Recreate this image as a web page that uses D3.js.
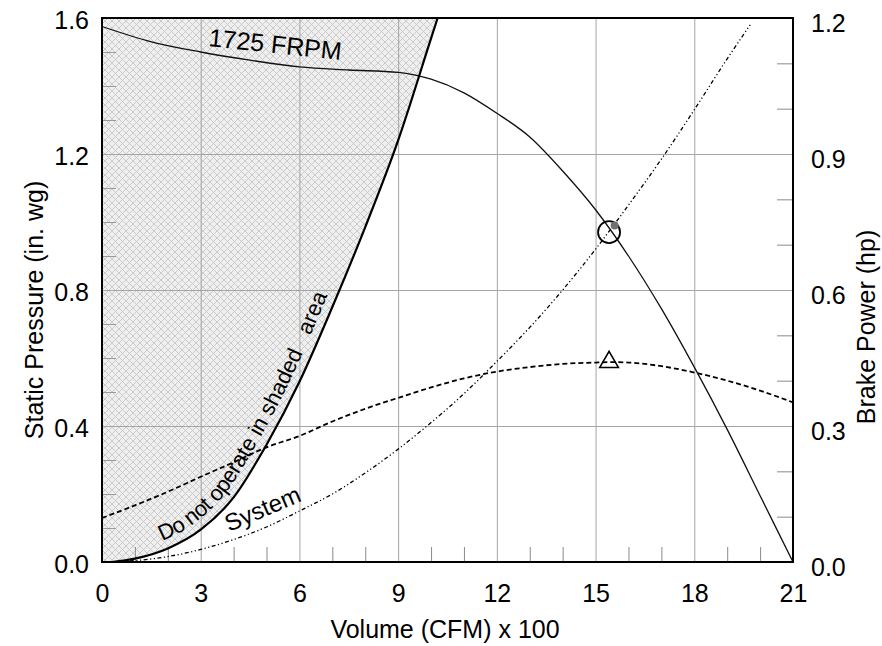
<!DOCTYPE html>
<html>
<head>
<meta charset="utf-8">
<script src="https://cdn.jsdelivr.net/npm/d3@7"></script>
<style>
  body { margin: 0; background: #fff; }
  svg text { font-family: "Liberation Sans", Arial, sans-serif; fill: #000; }
</style>
</head>
<body>
<div id="chart"></div>
<script>
// fan curve at 1725 rpm (static pressure, in. wg)
var fanX  = [0, 1.5, 3, 4.5, 6, 7.5, 9, 10, 11, 12, 13, 14, 15, 16, 17, 18, 19, 20, 21];
var fanSP = [1.575, 1.53, 1.50, 1.476, 1.456, 1.447, 1.44, 1.42, 1.38, 1.32, 1.25, 1.15, 1.036, 0.90, 0.745, 0.573, 0.39, 0.195, 0.0];

// stall boundary ("do not operate" edge)
var edgeX  = [0.3, 1, 2, 3, 4, 5, 6, 7, 8, 9, 10, 10.2];
var edgeSP = [0, 0.01, 0.04, 0.095, 0.19, 0.345, 0.53, 0.75, 0.985, 1.24, 1.54, 1.6];

// brake power (hp, right axis)
var bhpX = [0, 1, 2, 3, 4, 5, 6, 7, 8, 9, 10, 11, 12, 13, 14, 15, 15.5, 16, 17, 18, 19, 20, 21];
var bhp  = [0.097, 0.125, 0.155, 0.188, 0.22, 0.253, 0.278, 0.31, 0.338, 0.362, 0.385, 0.405, 0.42, 0.43, 0.437, 0.44, 0.441, 0.44, 0.432, 0.418, 0.40, 0.378, 0.352];

// system curve (static pressure)
var sysX  = [0, 1, 2, 3, 4, 5, 6, 7, 8, 9, 10, 11, 12, 13, 14, 15, 16, 17, 18, 19, 19.7];
var sysSP = [0, 0.004, 0.016, 0.037, 0.066, 0.103, 0.15, 0.20, 0.262, 0.332, 0.41, 0.495, 0.59, 0.69, 0.80, 0.92, 1.05, 1.185, 1.33, 1.48, 1.58];

// operating point and peak power marker
var opPoint  = [15.41, 0.97];
var opDot    = [15.58, 0.99];
var bhpPeak  = [15.41, 0.441];

var xTicks = [0, 3, 6, 9, 12, 15, 18, 21];
var yTicks = [0, 0.4, 0.8, 1.2, 1.6];
var y2Ticks = [0, 0.3, 0.6, 0.9, 1.2];
var xMinor = [1, 2, 4, 5, 7, 8, 10, 11, 13, 14, 16, 17, 19, 20];
var yMinor = [0.1, 0.2, 0.3, 0.5, 0.6, 0.7, 0.9, 1.0, 1.1, 1.3, 1.4, 1.5];
var y2Minor = [0.1, 0.2, 0.4, 0.5, 0.7, 0.8, 1.0, 1.1];

var W = 882, H = 646;
var pL = 102, pR = 793, pT = 18, pB = 562;

var svg = d3.select("#chart").append("svg")
    .attr("width", W)
    .attr("height", H);

var x = d3.scaleLinear().domain([0, 21]).range([pL, pR]);
var y = d3.scaleLinear().domain([0, 1.6]).range([pB, pT]);
var y2 = d3.scaleLinear().domain([0, 1.2]).range([pB, pT]);

// hatch for the shaded area
var defs = svg.append("defs");
var pat = defs.append("pattern")
    .attr("id", "hatch")
    .attr("patternUnits", "userSpaceOnUse")
    .attr("width", 7).attr("height", 7);
pat.append("rect").attr("width", 7).attr("height", 7).attr("fill", "#efefef");
pat.append("path")
    .attr("d", "M0,0L7,7M7,0L0,7")
    .attr("stroke", "#c6c6c6")
    .attr("stroke-width", 0.9);

// shaded region: left axis up to the boundary curve
var shadePts = [[0, 1.6]];
for (var i = edgeX.length - 1; i >= 0; i--) shadePts.push([edgeX[i], edgeSP[i]]);
shadePts.push([0, 0]);
svg.append("path")
    .attr("d", d3.line().x(function (d) { return x(d[0]); }).y(function (d) { return y(d[1]); })
        .curve(d3.curveMonotoneY)(shadePts))
    .attr("fill", "url(#hatch)");

// grid
svg.append("g")
    .attr("transform", "translate(0," + pB + ")")
    .call(d3.axisBottom(x).tickValues(xTicks.slice(1, -1)).tickSize(-(pB - pT)).tickFormat(""))
    .call(function (g) { g.select(".domain").remove(); })
    .selectAll("line").attr("stroke", "#a5a5a5").attr("stroke-width", 1);
svg.append("g")
    .attr("transform", "translate(" + pL + ",0)")
    .call(d3.axisLeft(y).tickValues(yTicks.slice(1, -1)).tickSize(-(pR - pL)).tickFormat(""))
    .call(function (g) { g.select(".domain").remove(); })
    .selectAll("line").attr("stroke", "#a5a5a5").attr("stroke-width", 1);

// minor ticks (inside)
svg.append("g")
    .attr("transform", "translate(0," + pB + ")")
    .call(d3.axisBottom(x).tickValues(xMinor).tickSize(-15).tickFormat(""))
    .call(function (g) { g.select(".domain").remove(); })
    .selectAll("line").attr("stroke", "#8a8a8a");
svg.append("g")
    .attr("transform", "translate(" + pL + ",0)")
    .call(d3.axisLeft(y).tickValues(yMinor).tickSize(-14).tickFormat(""))
    .call(function (g) { g.select(".domain").remove(); })
    .selectAll("line").attr("stroke", "#9a9a9a");
svg.append("g")
    .attr("transform", "translate(" + pR + ",0)")
    .call(d3.axisRight(y2).tickValues(y2Minor).tickSize(-16).tickFormat(""))
    .call(function (g) { g.select(".domain").remove(); })
    .selectAll("line").attr("stroke", "#8a8a8a");

var line = function (xs, ys, sy) {
    return d3.line()
        .x(function (d, i) { return x(xs[i]); })
        .y(function (d, i) { return sy(ys[i]); })
        .curve(d3.curveMonotoneX)(xs);
};

// system curve
svg.append("path")
    .attr("d", line(sysX, sysSP, y))
    .attr("fill", "none")
    .attr("stroke", "#000")
    .attr("stroke-width", 1.3)
    .attr("stroke-dasharray", "4,2.5,1.2,2.5,1.2,2.5");

// brake power
svg.append("path")
    .attr("d", line(bhpX, bhp, y2))
    .attr("fill", "none")
    .attr("stroke", "#000")
    .attr("stroke-width", 1.8)
    .attr("stroke-dasharray", "5,3");

// fan curve
svg.append("path")
    .attr("d", line(fanX, fanSP, y))
    .attr("fill", "none")
    .attr("stroke", "#111")
    .attr("stroke-width", 1.3);

// boundary
svg.append("path")
    .attr("id", "edge")
    .attr("d", line(edgeX, edgeSP, y))
    .attr("fill", "none")
    .attr("stroke", "#000")
    .attr("stroke-width", 2.2);

// frame
svg.append("rect")
    .attr("x", pL).attr("y", pT)
    .attr("width", pR - pL).attr("height", pB - pT)
    .attr("fill", "none")
    .attr("stroke", "#000")
    .attr("stroke-width", 2);

// markers
svg.append("circle")
    .attr("cx", x(opPoint[0])).attr("cy", y(opPoint[1]))
    .attr("r", 11)
    .attr("fill", "none")
    .attr("stroke", "#000")
    .attr("stroke-width", 1.8);
svg.append("circle")
    .attr("cx", x(opDot[0])).attr("cy", y(opDot[1]))
    .attr("r", 4)
    .attr("fill", "#707070");
svg.append("path")
    .attr("transform", "translate(" + x(bhpPeak[0]) + "," + y2(bhpPeak[1]) + ")")
    .attr("d", d3.symbol().type(d3.symbolTriangle).size(150)())
    .attr("fill", "none")
    .attr("stroke", "#000")
    .attr("stroke-width", 1.6);

// axes labels
var fs = 25;
svg.append("g")
    .attr("transform", "translate(0," + pB + ")")
    .call(d3.axisBottom(x).tickValues(xTicks).tickSize(0).tickPadding(22).tickFormat(d3.format("d")))
    .call(function (g) {
        g.select(".domain").remove();
        g.selectAll("text").style("font-size", fs + "px").style("font-family", "Liberation Sans, Arial, sans-serif").attr("fill", "#000");
    });
svg.append("g")
    .attr("transform", "translate(" + pL + ",0)")
    .call(d3.axisLeft(y).tickValues(yTicks).tickSize(0).tickPadding(13).tickFormat(d3.format(".1f")))
    .call(function (g) {
        g.select(".domain").remove();
        g.selectAll("text").attr("dy", "0.42em").style("font-size", fs + "px").style("font-family", "Liberation Sans, Arial, sans-serif").attr("fill", "#000");
    });
svg.append("g")
    .attr("transform", "translate(" + pR + ",0)")
    .call(d3.axisRight(y2).tickValues(y2Ticks).tickSize(0).tickPadding(18).tickFormat(d3.format(".1f")))
    .call(function (g) {
        g.select(".domain").remove();
        g.selectAll("text").attr("dy", "0.55em").style("font-size", fs + "px").style("font-family", "Liberation Sans, Arial, sans-serif").attr("fill", "#000");
    });

svg.append("text")
    .attr("x", 445).attr("y", 638)
    .attr("text-anchor", "middle")
    .style("font-size", fs + "px")
    .text("Volume (CFM) x 100");
svg.append("text")
    .attr("transform", "translate(43,310) rotate(-90)")
    .attr("text-anchor", "middle")
    .style("font-size", fs + "px")
    .text("Static Pressure (in. wg)");
svg.append("text")
    .attr("transform", "translate(875,327) rotate(-90)")
    .attr("text-anchor", "middle")
    .style("font-size", fs + "px")
    .text("Brake Power (hp)");

// curve annotations
svg.append("text")
    .attr("transform", "translate(208,46) rotate(6)")
    .style("font-size", "25px")
    .text("1725 FRPM");
svg.append("text")
    .attr("transform", "translate(229,532) rotate(-23)")
    .style("font-size", "24px")
    .text("System");
svg.append("text")
    .attr("dy", -9)
    .style("font-size", "22px")
    .style("white-space", "pre")
    .append("textPath")
    .attr("href", "#edge")
    .attr("startOffset", 56)
    .text("Do not operate in shaded   area");
</script>
</body>
</html>
